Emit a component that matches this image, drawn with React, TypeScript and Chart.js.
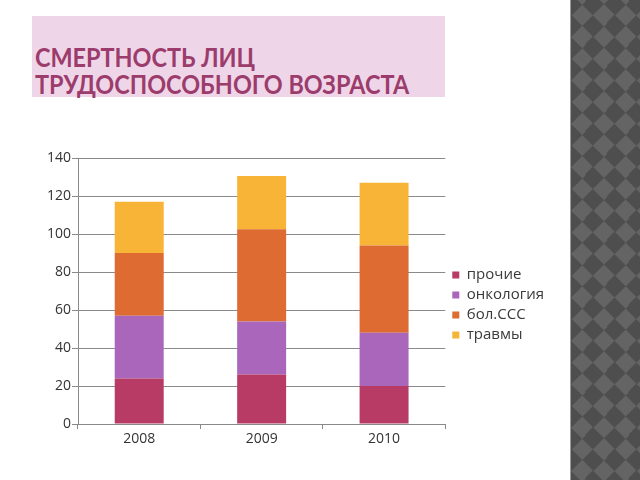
import React, { useEffect, useRef } from "react";
import { Chart, registerables } from "chart.js";

Chart.register(...registerables);

const categories = ["2008", "2009", "2010"];
const seriesNames = ["прочие", "онкология", "бол.ССС", "травмы"];
const prochie = [24, 26, 20];
const onkologiya = [33, 28, 28];
const bolSSS = [33, 48.5, 46];
const travmy = [27, 28, 33];
const yTicks = [0, 20, 40, 60, 80, 100, 120, 140];
const colors = ["#B83B65", "#A966BB", "#DD6B32", "#F8B436"];

const legendShift = {
  id: "legendShift",
  afterLayout(chart: any) {
    const lg = chart.legend;
    if (lg) {
      lg.left += 2;
      lg.right += 2;
      if (typeof lg.adjustHitBoxes === "function") lg.adjustHitBoxes();
    }
  },
};

export default function App() {
  const ref = useRef<HTMLCanvasElement>(null);
  useEffect(() => {
    if (!ref.current) return;
    const values = [prochie, onkologiya, bolSSS, travmy];
    const chart = new Chart(ref.current, {
      type: "bar",
      data: {
        labels: categories,
        datasets: seriesNames.map((n, i) => ({
          label: n,
          data: values[i],
          backgroundColor: colors[i],
          borderWidth: 0,
          categoryPercentage: 1,
          barPercentage: 0.4,
        })),
      },
      plugins: [legendShift],
      options: {
        animation: false,
        responsive: false,
        maintainAspectRatio: false,
        layout: { padding: { top: 158, left: 30, bottom: 28, right: 18 } },
        plugins: {
          title: { display: false },
          tooltip: { enabled: false },
          legend: {
            position: "right",
            align: "center",
            labels: {
              boxWidth: 7,
              boxHeight: 7,
              padding: 5,
              color: "#3a3a3a",
              font: { family: "Open Sans", size: 15 },
            },
          },
        },
        scales: {
          x: {
            stacked: true,
            afterFit: (s: any) => { s.height = 28; },
            grid: { display: true, drawOnChartArea: false, drawTicks: true, tickLength: 5, color: "#8a8a8a", offset: true },
            border: { display: true, color: "#8a8a8a" },
            ticks: { color: "#333333", font: { family: "Open Sans", size: 14 }, padding: 2 },
          },
          y: {
            stacked: true,
            min: 0,
            max: 140,
            afterFit: (s: any) => { s.width = 48; },
            afterBuildTicks: (s: any) => { s.ticks = yTicks.map((v) => ({ value: v })); },
            grid: { color: "#8a8a8a", tickLength: 6 },
            border: { display: true, color: "#8a8a8a" },
            ticks: { color: "#333333", font: { family: "Open Sans", size: 14 }, padding: 1 },
          },
        },
      },
    });
    return () => chart.destroy();
  }, []);

  return (
    <div style={{ position: "fixed", left: 0, top: 0, width: 640, height: 480, background: "#ffffff", overflow: "hidden" }}>
      <div
        style={{
          position: "absolute",
          left: 32,
          top: 16,
          width: 413,
          height: 81,
          background: "#EFD5E8",
        }}
      />
      <div
        style={{
          position: "absolute",
          left: 35,
          top: 44,
          fontFamily: "Lato",
          fontWeight: 700,
          fontSize: 26,
          lineHeight: "27px",
          color: "#9C3C6C",
          whiteSpace: "nowrap",
          transform: "scaleX(0.9)",
          transformOrigin: "0 0",
        }}
      >
        СМЕРТНОСТЬ ЛИЦ
        <br />
        ТРУДОСПОСОБНОГО ВОЗРАСТА
      </div>
      <canvas ref={ref} width={570} height={480} style={{ position: "absolute", left: 0, top: 0 }} />
      <div
        style={{
          position: "absolute",
          left: 570,
          top: 0,
          width: 70,
          height: 480,
          overflow: "hidden",
          borderLeft: "1px solid #9a9a9a",
          background: "#595959",
        }}
      >
        <div
          style={{
            position: "absolute",
            left: -200,
            top: -200,
            width: 900,
            height: 900,
            transform: "rotate(45deg)",
            background: "repeating-conic-gradient(#4e4e4e 0 25%, #646464 0 50%) 0 0 / 30.7px 30.7px",
          }}
        />
      </div>
    </div>
  );
}
